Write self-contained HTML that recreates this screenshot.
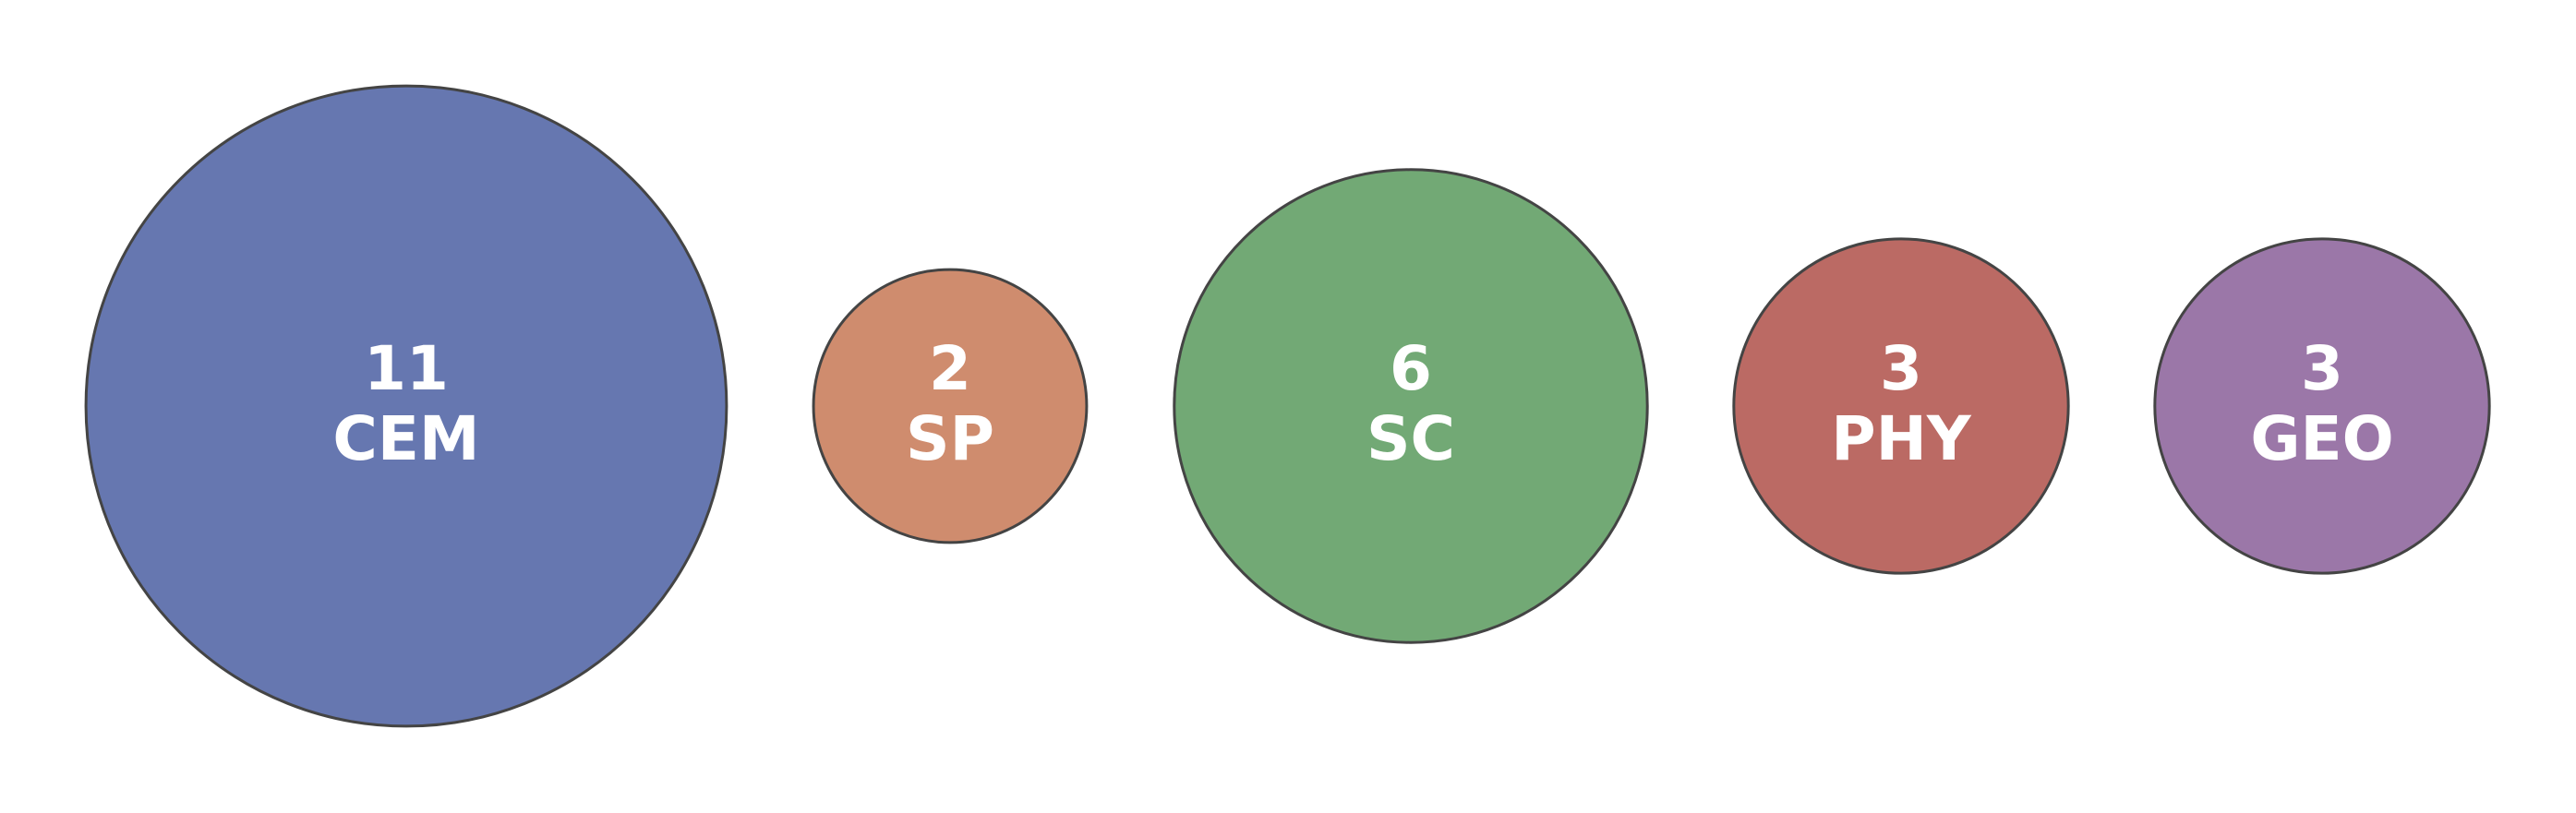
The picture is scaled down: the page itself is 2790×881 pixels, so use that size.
<!DOCTYPE html>
<html><head><meta charset="utf-8"><style>
html,body{margin:0;padding:0;background:#fff;}
svg{display:block;}
text{font-family:"DejaVu Sans","Liberation Sans",sans-serif;font-weight:bold;fill:#fff;text-anchor:middle;font-size:66px;}
</style></head><body>
<svg id="chart" width="2790" height="881" viewBox="0 0 2790 881" xmlns="http://www.w3.org/2000/svg"></svg>
<script>
const categories = ["CEM","SP","SC","PHY","GEO"];
const values = [11,2,6,3,3];
const colors = ["#6677b0","#cf8c6e","#72a975","#bb6a64","#9b77a8"];
const centers = [440,1029,1528,2059,2515];
const svg = document.getElementById('chart');
const NS = "http://www.w3.org/2000/svg";
const cy = 440;
function rScale(v){ return 104.6*Math.sqrt(v); }
categories.forEach((c,i)=>{
  const g = document.createElementNS(NS,'g');
  
  
  const circ = document.createElementNS(NS,'circle');
  
  
  circ.setAttribute('cx', centers[i]);
  circ.setAttribute('cy', cy);
  circ.setAttribute('r', rScale(values[i]));
  circ.setAttribute('fill', colors[i]);
  circ.setAttribute('stroke', '#444');
  circ.setAttribute('stroke-width', '3');
  g.appendChild(circ);
  const t1 = document.createElementNS(NS,'text');
  
  
  t1.setAttribute('x', centers[i]);
  t1.setAttribute('y', cy-18);
  t1.textContent = values[i];
  g.appendChild(t1);
  const t2 = document.createElementNS(NS,'text');
  
  
  t2.setAttribute('x', centers[i]);
  t2.setAttribute('y', cy+58);
  t2.textContent = c;
  g.appendChild(t2);
  svg.appendChild(g);
});
</script>
</body></html>
